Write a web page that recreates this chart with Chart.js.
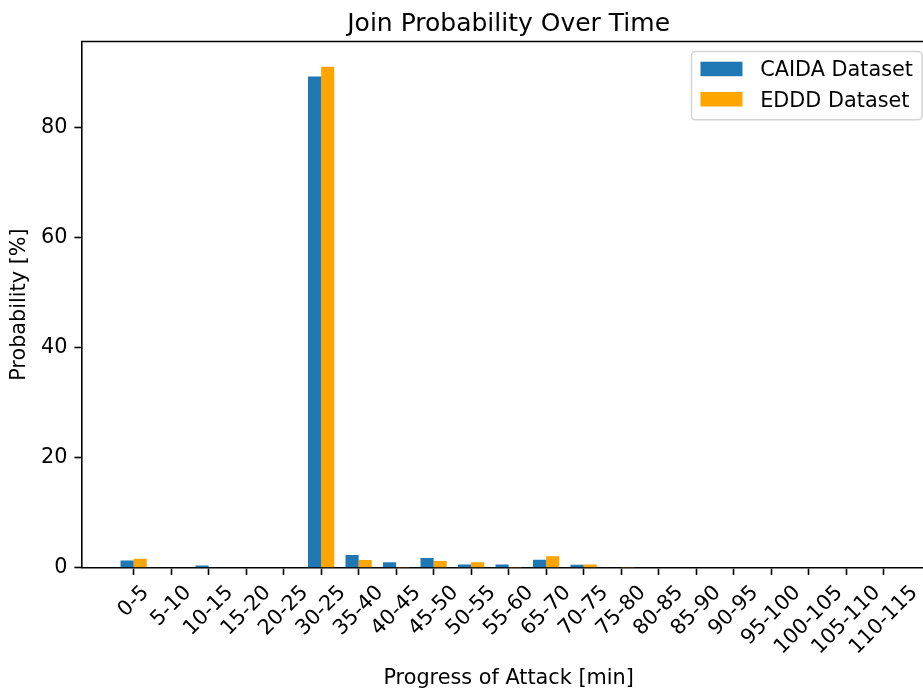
<!DOCTYPE html>
<html>
<head>
<meta charset="utf-8">
<title>Join Probability Over Time</title>
<script src="https://cdn.jsdelivr.net/npm/chart.js@4.4.1/dist/chart.umd.min.js"></script>
<style>
  html, body { margin: 0; padding: 0; background: #fff; overflow: hidden; }
  canvas { display: block; }
</style>
</head>
<body>
<canvas id="chart" width="923" height="691"></canvas>
<script>
// Time windows since the attack started (minutes)
const categories = ['0-5', '5-10', '10-15', '15-20', '20-25', '30-25', '35-40', '40-45',
  '45-50', '50-55', '55-60', '65-70', '70-75', '75-80', '80-85', '85-90', '90-95',
  '95-100', '100-105', '105-110', '110-115'];

// Join probability per window, in percent
const caidaValues = [1.33, 0, 0.42, 0, 0, 89.3, 2.3, 0.97, 1.75, 0.6, 0.6, 1.45, 0.55,
  0, 0, 0, 0, 0, 0, 0, 0];
const edddValues = [1.64, 0, 0, 0, 0, 91.1, 1.4, 0.15, 1.2, 0.97, 0.15, 2.1, 0.6,
  0.15, 0, 0, 0, 0, 0, 0, 0];

const yTicks = [0, 20, 40, 60, 80];

const FONT = 'DejaVu Sans';
const TEXT_SIZE = 20.8;
const TITLE_SIZE = 25;
Chart.defaults.font.family = FONT;
Chart.defaults.color = '#000';

// Title and x-axis caption, centred on the middle window
const captions = {
  id: 'captions',
  afterDraw(chart) {
    const ctx = chart.ctx;
    const cx = chart.scales.x.getPixelForValue((categories.length - 1) / 2);
    ctx.save();
    ctx.fillStyle = '#000';
    ctx.textAlign = 'center';
    ctx.textBaseline = 'alphabetic';
    ctx.font = `${TITLE_SIZE}px "${FONT}"`;
    ctx.fillText('Join Probability Over Time', cx, 30.8);
    ctx.font = `${TEXT_SIZE}px "${FONT}"`;
    ctx.fillText('Progress of Attack [min]', cx, 683.8);
    ctx.restore();
  }
};

// Window labels tilted by 45 degrees, each centred under its tick
const tiltedLabels = {
  id: 'tiltedLabels',
  afterDraw(chart) {
    const x = chart.scales.x;
    const ctx = chart.ctx;
    const size = TEXT_SIZE, c = Math.SQRT1_2, h = 0.98 * size;
    const top = chart.chartArea.bottom + 14.5;
    ctx.save();
    ctx.font = `${size}px "${FONT}"`;
    ctx.fillStyle = '#000';
    categories.forEach((lab, i) => {
      const px = x.getPixelForValue(i);
      const w = ctx.measureText(lab).width;
      ctx.save();
      ctx.translate(px + c * w / 2, top + c * h / 2);
      ctx.rotate(-Math.PI / 4);
      ctx.textAlign = 'right';
      ctx.textBaseline = 'alphabetic';
      ctx.fillText(lab, 0, 0.27 * size);
      ctx.restore();
    });
    ctx.restore();
  }
};

// Top frame line of the plot area
const topSpine = {
  id: 'topSpine',
  afterDraw(chart) {
    const { ctx, chartArea: a } = chart;
    ctx.save();
    ctx.strokeStyle = '#000';
    ctx.lineWidth = 1.6;
    ctx.beginPath();
    ctx.moveTo(a.left - 0.8, a.top);
    ctx.lineTo(a.right, a.top);
    ctx.stroke();
    ctx.restore();
  }
};

// Framed legend in the upper right corner of the plot area
const legendBox = {
  id: 'legendBox',
  afterDraw(chart) {
    const ctx = chart.ctx, a = chart.chartArea;
    const size = TEXT_SIZE;
    ctx.save();
    ctx.font = `${size}px "${FONT}"`;
    const items = chart.data.datasets.map(d => ({ label: d.label, color: d.backgroundColor }));
    const textW = Math.max(...items.map(it => ctx.measureText(it.label).width));
    const padX = 9, handleW = 42, gap = 17.7, rowH = 30.3, height = 68.3;
    const right = a.right - 1, top = a.top + 10;
    const width = padX + handleW + gap + textW + padX;
    const left = right - width;
    ctx.beginPath();
    if (ctx.roundRect) ctx.roundRect(left, top, width, height, 4);
    else ctx.rect(left, top, width, height);
    ctx.fillStyle = 'rgba(255,255,255,0.8)';
    ctx.fill();
    ctx.strokeStyle = '#d4d4d4';
    ctx.lineWidth = 1.5;
    ctx.stroke();
    items.forEach((it, i) => {
      const cy = top + 17.2 + i * rowH;
      ctx.fillStyle = it.color;
      ctx.fillRect(left + padX, cy - 7, handleW, 14.5);
      ctx.fillStyle = '#000';
      ctx.textAlign = 'left';
      ctx.textBaseline = 'alphabetic';
      ctx.fillText(it.label, left + padX + handleW + gap, cy + 7.5);
    });
    ctx.restore();
  }
};

new Chart(document.getElementById('chart'), {
  type: 'bar',
  data: {
    datasets: [
      {
        label: 'CAIDA Dataset',
        data: caidaValues.map((v, i) => ({ x: i, y: v })),
        backgroundColor: '#1f77b4',
        borderWidth: 0
      },
      {
        label: 'EDDD Dataset',
        data: edddValues.map((v, i) => ({ x: i, y: v })),
        backgroundColor: '#ffa500',
        borderWidth: 0
      }
    ]
  },
  options: {
    responsive: false,
    animation: false,
    categoryPercentage: 0.7,
    barPercentage: 1.0,
    layout: { padding: { top: 41.5, left: 0, right: 0, bottom: 0 } },
    plugins: {
      legend: { display: false },
      tooltip: { enabled: false },
      title: { display: false }
    },
    scales: {
      x: {
        type: 'linear',
        min: -1.385,
        max: 21.05,
        offset: false,
        grid: {
          display: true, drawOnChartArea: false, drawTicks: true, offset: false,
          tickLength: 7.3, tickColor: '#000', tickWidth: 1.6
        },
        border: { display: true, color: '#000', width: 1.6 },
        ticks: { display: false },
        afterBuildTicks: s => { s.ticks = categories.map((_, i) => ({ value: i })); },
        afterFit: s => { s.height = 123.3; }
      },
      y: {
        min: 0,
        max: 95.67,
        grid: {
          display: true, drawOnChartArea: false, drawTicks: true,
          tickLength: 7.3, tickColor: '#000', tickWidth: 1.6
        },
        border: { display: true, color: '#000', width: 1.6 },
        ticks: { font: { size: TEXT_SIZE }, color: '#000', padding: 7 },
        afterBuildTicks: s => { s.ticks = yTicks.map(v => ({ value: v })); },
        afterFit: s => { s.width = 81.7; },
        title: {
          display: true, text: 'Probability [%]', color: '#000',
          font: { size: TEXT_SIZE }, padding: { top: 7.4, bottom: 0 }
        }
      }
    }
  },
  plugins: [captions, tiltedLabels, topSpine, legendBox]
});
</script>
</body>
</html>
